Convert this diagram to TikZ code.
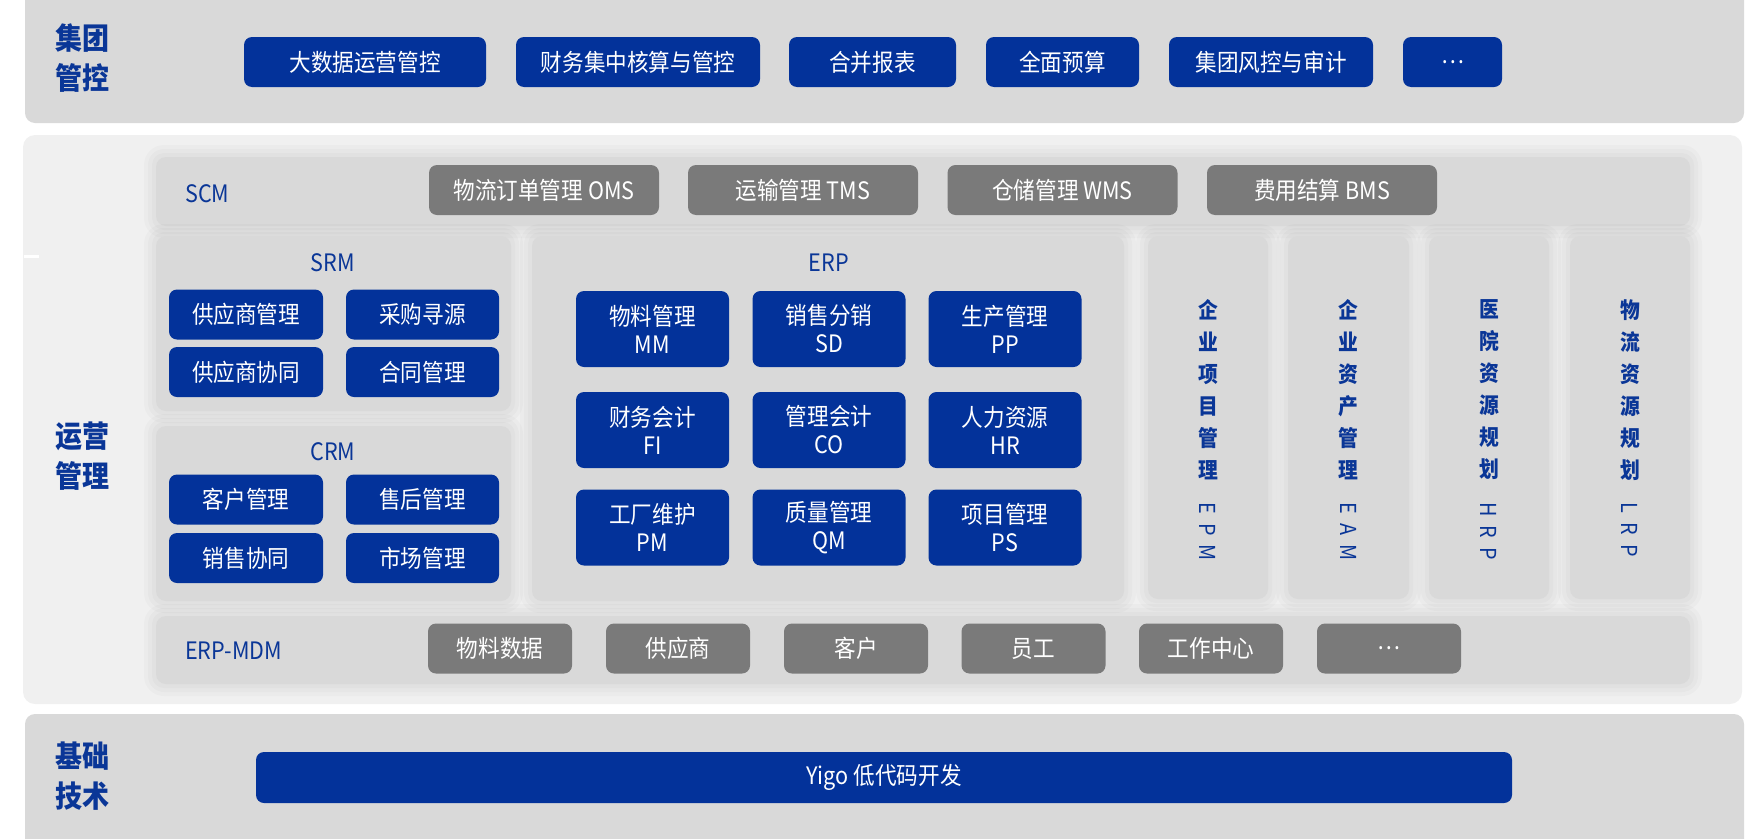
\documentclass[tikz,border=0pt]{standalone}
\usepackage{fontspec}
\setmainfont{Noto Sans CJK SC}[FakeStretch=0.9]
\usetikzlibrary{calc,positioning}
\definecolor{boxblue}{HTML}{03329A}
\definecolor{titleblue}{HTML}{0A3697}
\definecolor{boxgray}{HTML}{7A7A7A}
\definecolor{bandgray}{HTML}{D9D9D9}
\definecolor{panelgray}{HTML}{F0F0F0}
\def\boxfont{\fontsize{24}{28}\selectfont}
\def\layerfont{\fontsize{30}{40}\selectfont\bfseries}
\def\colfont{\fontsize{22}{32}\selectfont\bfseries}
\def\collatin{\fontsize{22}{24}\selectfont}
\def\halo(#1)(#2){%
  \fill[black, opacity=0.018, rounded corners=20pt] ($(#1)+(-12,-12)$) rectangle ($(#2)+(12,12)$);
  \fill[black, opacity=0.018, rounded corners=16pt] ($(#1)+(-8,-8)$) rectangle ($(#2)+(8,8)$);
  \fill[black, opacity=0.018, rounded corners=12pt] ($(#1)+(-4,-4)$) rectangle ($(#2)+(4,4)$);}

\begin{document}
\begin{tikzpicture}[x=1pt, y=-1pt,
    band/.style={fill=bandgray, rounded corners=10pt},
    bluebox/.style={fill=boxblue, text=white, rounded corners=8pt, inner sep=0pt, align=center, font=\boxfont, minimum height=50pt},
    graybox/.style={fill=boxgray, text=white, rounded corners=8pt, inner sep=0pt, font=\boxfont, minimum height=50pt},
    erpbox/.style={bluebox, minimum width=153pt, minimum height=76pt},
    layertitle/.style={text=titleblue, font=\layerfont, align=center, inner sep=0pt},
    bandtitle/.style={text=titleblue, font=\boxfont, inner sep=0pt},
    colchars/.style={text=titleblue, font=\colfont, align=center, inner sep=0pt},
    colcode/.style={text=titleblue, font=\collatin, inner sep=0pt, rotate=-90, anchor=west}]
    %%%%% START %%%%%
    \clip (0,0) rectangle (1753,838);

    % layers
    \fill[band] (25,-12) rectangle (1744,123);
    \fill[panelgray, rounded corners=12pt] (23,135) rectangle (1742,704);
    \fill[band] (25,714) rectangle (1744,850);
    \fill[white] (24,255) rectangle (39,258);

    \node[layertitle] (grouplbl) at (82,58) {集团\\管控};
    \node[layertitle] (opslbl) at (82,456) {运营\\管理};
    \node[layertitle] (baselbl) at (82,776) {基础\\技术};

    % group control
    \node[bluebox, minimum width=242pt] (bigdata) at (365,62) {大数据运营管控};
    \node[bluebox, minimum width=244pt] (fincenter) at (638,62) {财务集中核算与管控};
    \node[bluebox, minimum width=167pt] (consol) at (872.5,62) {合并报表};
    \node[bluebox, minimum width=153pt] (budget) at (1062.5,62) {全面预算};
    \node[bluebox, minimum width=204pt] (risk) at (1271,62) {集团风控与审计};
    \node[bluebox, minimum width=99pt] (groupmore) at (1452.5,62) {\dots};

    % SCM
    \halo(156,157)(1690,226)
    \fill[band] (156,157) rectangle (1690,226);
    \node[bandtitle, anchor=west] (scm) at (185,194) {SCM};
    \node[graybox, minimum width=230pt] (oms) at (544,190) {物流订单管理 OMS};
    \node[graybox, minimum width=230pt] (tms) at (803,190) {运输管理 TMS};
    \node[graybox, minimum width=230pt] (wms) at (1062.5,190) {仓储管理 WMS};
    \node[graybox, minimum width=230pt] (bms) at (1322,190) {费用结算 BMS};

    % SRM
    \halo(156,236)(511,411)
    \fill[band] (156,236) rectangle (511,411);
    \node[bandtitle] (srm) at (333,263) {SRM};
    \node[bluebox, minimum width=154pt] (supmgmt) at (246,314.5) {供应商管理};
    \node[bluebox, minimum width=153pt] (sourcing) at (422.5,314.5) {采购寻源};
    \node[bluebox, minimum width=154pt] (supcollab) at (246,372) {供应商协同};
    \node[bluebox, minimum width=153pt] (contract) at (422.5,372) {合同管理};

    % CRM
    \halo(156,426)(511,601)
    \fill[band] (156,426) rectangle (511,601);
    \node[bandtitle] (crm) at (333,452) {CRM};
    \node[bluebox, minimum width=154pt] (custmgmt) at (246,499.5) {客户管理};
    \node[bluebox, minimum width=153pt] (aftersale) at (422.5,499.5) {售后管理};
    \node[bluebox, minimum width=154pt] (salescollab) at (246,558) {销售协同};
    \node[bluebox, minimum width=153pt] (market) at (422.5,558) {市场管理};

    % ERP
    \halo(532,236)(1124,601)
    \fill[band] (532,236) rectangle (1124,601);
    \node[bandtitle] (erp) at (829,263) {ERP};
    \node[erpbox] (mm) at (652.5,329) {物料管理\\MM};
    \node[erpbox] (sd) at (829,329) {销售分销\\SD};
    \node[erpbox] (pp) at (1005,329) {生产管理\\PP};
    \node[erpbox] (fi) at (652.5,430) {财务会计\\FI};
    \node[erpbox] (co) at (829,430) {管理会计\\CO};
    \node[erpbox] (hr) at (1005,430) {人力资源\\HR};
    \node[erpbox] (pm) at (652.5,527.5) {工厂维护\\PM};
    \node[erpbox] (qm) at (829,527.5) {质量管理\\QM};
    \node[erpbox] (ps) at (1005,527.5) {项目管理\\PS};

    % columns
    \halo(1148,236)(1268,599)
    \halo(1288,236)(1409,599)
    \halo(1429,236)(1549,599)
    \halo(1570,236)(1690,599)
    \fill[band] (1148,236) rectangle (1268,599);
    \fill[band] (1288,236) rectangle (1409,599);
    \fill[band] (1429,236) rectangle (1549,599);
    \fill[band] (1570,236) rectangle (1690,599);
    \node[colchars] (epmcn) at (1208,390) {企\\业\\项\\目\\管\\理};
    \node[colcode] (epmen) at ([yshift=-22pt]epmcn.south) {E\hspace{9pt}P\hspace{9pt}M};
    \node[colchars] (eamcn) at (1348.5,390) {企\\业\\资\\产\\管\\理};
    \node[colcode] (eamen) at ([yshift=-22pt]eamcn.south) {E\hspace{9pt}A\hspace{9pt}M};
    \node[colchars] (hrpcn) at (1489,390) {医\\院\\资\\源\\规\\划};
    \node[colcode] (hrpen) at ([yshift=-22pt]hrpcn.south) {H\hspace{9pt}R\hspace{9pt}P};
    \node[colchars] (lrpcn) at (1630,390) {物\\流\\资\\源\\规\\划};
    \node[colcode] (lrpen) at ([yshift=-22pt]lrpcn.south) {L\hspace{9pt}R\hspace{9pt}P};

    % ERP-MDM
    \halo(156,616)(1690,684)
    \fill[band] (156,616) rectangle (1690,684);
    \node[bandtitle, anchor=west] (mdm) at (185,651) {ERP-MDM};
    \node[graybox, minimum width=144pt] (matdata) at (500,648.5) {物料数据};
    \node[graybox, minimum width=144pt] (supplier) at (678,648.5) {供应商};
    \node[graybox, minimum width=144pt] (customer) at (856,648.5) {客户};
    \node[graybox, minimum width=144pt] (staff) at (1033.5,648.5) {员工};
    \node[graybox, minimum width=144pt] (workcenter) at (1211,648.5) {工作中心};
    \node[graybox, minimum width=144pt] (mdmmore) at (1389,648.5) {\dots};

    % base
    \node[bluebox, minimum width=1256pt, minimum height=51pt] (yigo) at (884,777.5) {Yigo 低代码开发};
    %%%%% END %%%%%
\end{tikzpicture}
\end{document}
